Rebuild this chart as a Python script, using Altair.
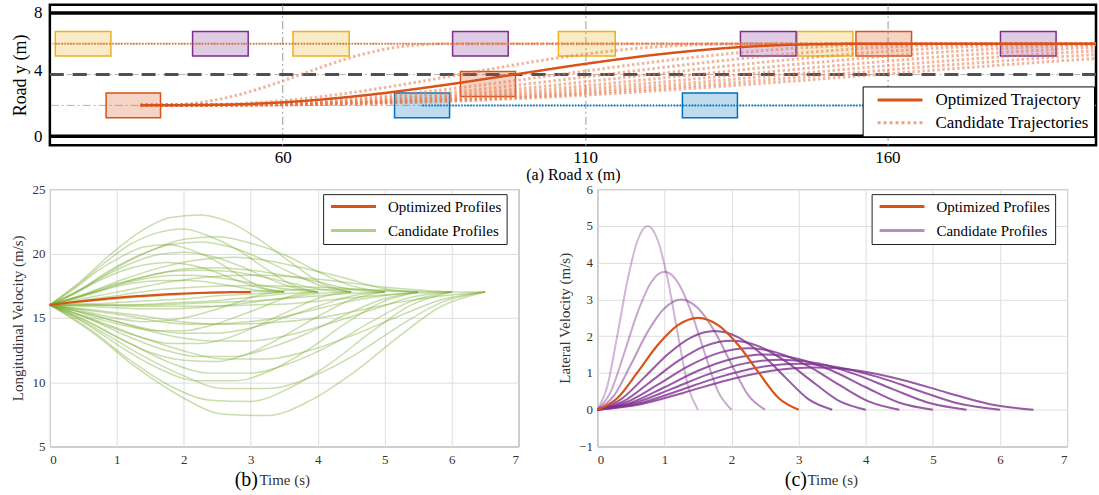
import altair as alt
import pandas as pd

FONT = "Liberation Serif"
ORANGE = "#D95319"

# ---------------- (a) road scene ----------------
ROAD_X = [21.5, 194.5]
ROAD_Y = [-0.55, 8.0]
ROAD_X_TICKS = [60, 110, 160]
ROAD_Y_TICKS = [0, 4, 8]

road_edges = [0.0, 7.5]
lane_divider = [3.75]
lane_guides = [1.875, 3.75, 5.625]

car_kind = ["yellow", "yellow", "yellow", "yellow",
            "purple", "purple", "purple", "purple",
            "ego", "ego", "ego", "blue", "blue"]
car_x0 = [22.4, 61.7, 105.6, 145.1, 45.1, 88.1, 135.7, 178.7, 30.8, 89.4, 154.8, 78.5, 126.1]
car_x1 = [31.6, 71.0, 115.0, 154.3, 54.3, 97.3, 144.9, 187.9, 39.8, 98.5, 164.0, 87.6, 135.2]
car_y0 = [4.875, 4.875, 4.875, 4.875, 4.875, 4.875, 4.875, 4.875, 1.125, 2.42, 4.875, 1.125, 1.125]
car_y1 = [6.375, 6.375, 6.375, 6.375, 6.375, 6.375, 6.375, 6.375, 2.625, 3.94, 6.375, 2.625, 2.625]

# predicted paths of the surrounding vehicles
pred_kind = ["lane2", "blue"]
pred_x0 = [22.4, 83.1]
pred_x1 = [194.5, 194.5]
pred_y = [5.625, 1.875]

CAR_KEYS = ["yellow", "purple", "ego", "blue", "lane2"]
CAR_COLORS = ["#EDB120", "#7E2F8E", ORANGE, "#0072BD", "#E0782E"]

# lateral offsets along each lane-change path (same sampling for every path)
path_y = [1.88, 1.91, 2.09, 2.49, 3.07, 3.75, 4.43, 5.01, 5.41, 5.59, 5.63]
opt_x = [36.5, 48.9, 61.2, 73.6, 85.9, 98.3, 110.6, 123.0, 135.3, 147.7, 160.0]
cand_x = [
    [36.5, 41.8, 47.1, 52.4, 57.7, 63.0, 68.2, 73.5, 78.8, 84.1, 89.4],
    [36.5, 47.1, 57.6, 68.2, 78.7, 89.3, 99.8, 110.4, 120.9, 131.5, 142.0],
    [36.5, 50.4, 64.2, 78.1, 91.9, 105.8, 119.6, 133.5, 147.3, 161.2, 175.0],
    [36.5, 51.9, 67.2, 82.6, 97.9, 113.3, 128.6, 144.0, 159.3, 174.7, 190.0],
    [36.5, 53.4, 70.2, 87.1, 103.9, 120.8, 137.6, 154.5, 171.3, 188.2, 205.0],
    [36.5, 54.9, 73.2, 91.6, 109.9, 128.3, 146.6, 165.0, 183.3, 201.7, 220.0],
    [36.5, 56.4, 76.2, 96.1, 115.9, 135.8, 155.6, 175.5, 195.3, 215.2, 235.0],
    [36.5, 57.9, 79.2, 100.6, 121.9, 143.3, 164.6, 186.0, 207.3, 228.7, 250.0],
    [36.5, 59.4, 82.2, 105.1, 127.9, 150.8, 173.6, 196.5, 219.3, 242.2, 265.0],
    [36.5, 60.9, 85.2, 109.6, 133.9, 158.3, 182.6, 207.0, 231.3, 255.7, 280.0],
]
ROAD_END = 194.5
TRAJ_KINDS = ["Optimized Trajectory", "Candidate Trajectories"]

# ---------------- (b) longitudinal velocity ----------------
S_FRAC = [0.0, 0.1, 0.2, 0.3, 0.4, 0.5, 0.6, 0.7, 0.8, 0.9, 1.0]
long_T = [3.5] * 5 + [4.0] * 5 + [4.5] * 5 + [5.0] * 5 + [5.5] * 5 + [6.0] * 5 + [6.5] * 5
long_v = [
    [16.0, 17.2, 18.6, 19.7, 20.5, 20.7, 20.3, 19.5, 18.4, 17.4, 17.0],
    [16.0, 16.8, 17.8, 18.6, 19.1, 19.3, 19.1, 18.6, 17.9, 17.3, 17.0],
    [16.0, 16.5, 17.0, 17.5, 17.8, 17.9, 17.9, 17.7, 17.4, 17.1, 17.0],
    [16.0, 16.1, 16.1, 16.2, 16.3, 16.4, 16.5, 16.7, 16.8, 16.9, 17.0],
    [16.0, 15.7, 15.3, 14.9, 14.7, 14.8, 15.1, 15.6, 16.2, 16.8, 17.0],
    [16.0, 17.5, 19.2, 20.7, 21.6, 21.9, 21.3, 20.3, 18.9, 17.6, 17.0],
    [16.0, 17.0, 18.2, 19.2, 19.9, 20.1, 19.8, 19.1, 18.2, 17.4, 17.0],
    [16.0, 16.6, 17.2, 17.8, 18.2, 18.3, 18.2, 17.9, 17.5, 17.2, 17.0],
    [16.0, 16.0, 16.0, 16.0, 16.1, 16.2, 16.3, 16.5, 16.7, 16.9, 17.0],
    [16.0, 15.5, 14.8, 14.3, 14.0, 14.0, 14.4, 15.1, 15.9, 16.7, 17.0],
    [16.0, 17.8, 19.9, 21.7, 22.8, 23.0, 22.4, 21.0, 19.3, 17.7, 17.0],
    [16.0, 17.2, 18.7, 19.9, 20.7, 20.9, 20.5, 19.6, 18.5, 17.5, 17.0],
    [16.0, 16.7, 17.5, 18.1, 18.6, 18.7, 18.6, 18.2, 17.7, 17.2, 17.0],
    [16.0, 15.9, 15.8, 15.7, 15.7, 15.8, 16.0, 16.3, 16.6, 16.9, 17.0],
    [16.0, 15.2, 14.3, 13.5, 13.0, 13.0, 13.5, 14.5, 15.6, 16.6, 17.0],
    [16.0, 17.3, 18.9, 20.2, 21.1, 21.3, 20.8, 19.9, 18.6, 17.5, 17.0],
    [16.0, 16.7, 17.6, 18.3, 18.8, 18.9, 18.7, 18.3, 17.8, 17.2, 17.0],
    [16.0, 16.0, 16.0, 16.0, 16.1, 16.2, 16.3, 16.5, 16.7, 16.9, 17.0],
    [16.0, 15.4, 14.7, 14.1, 13.8, 13.8, 14.2, 15.0, 15.9, 16.7, 17.0],
    [16.0, 14.9, 13.5, 12.3, 11.7, 11.6, 12.3, 13.6, 15.1, 16.4, 17.0],
    [16.0, 16.9, 18.0, 18.9, 19.5, 19.7, 19.4, 18.8, 18.1, 17.3, 17.0],
    [16.0, 16.4, 16.8, 17.2, 17.4, 17.5, 17.5, 17.4, 17.3, 17.1, 17.0],
    [16.0, 15.6, 15.2, 14.7, 14.5, 14.6, 14.9, 15.5, 16.2, 16.7, 17.0],
    [16.0, 15.0, 13.7, 12.6, 12.0, 12.0, 12.7, 13.8, 15.2, 16.4, 17.0],
    [16.0, 14.5, 12.6, 11.0, 10.1, 10.1, 10.9, 12.5, 14.5, 16.2, 17.0],
    [16.0, 16.6, 17.2, 17.8, 18.2, 18.3, 18.2, 17.9, 17.5, 17.2, 17.0],
    [16.0, 16.0, 15.9, 15.9, 15.9, 16.0, 16.1, 16.4, 16.7, 16.9, 17.0],
    [16.0, 15.3, 14.4, 13.6, 13.2, 13.2, 13.7, 14.6, 15.6, 16.6, 17.0],
    [16.0, 14.6, 13.0, 11.5, 10.7, 10.7, 11.5, 12.9, 14.7, 16.3, 17.0],
    [16.0, 14.1, 11.7, 9.7, 8.6, 8.5, 9.6, 11.5, 13.9, 16.0, 17.0],
    [16.0, 16.3, 16.6, 16.8, 17.0, 17.1, 17.2, 17.2, 17.1, 17.0, 17.0],
    [16.0, 15.6, 15.2, 14.7, 14.5, 14.6, 14.9, 15.5, 16.2, 16.7, 17.0],
    [16.0, 14.9, 13.6, 12.5, 11.8, 11.8, 12.5, 13.7, 15.1, 16.4, 17.0],
    [16.0, 14.3, 12.3, 10.6, 9.5, 9.5, 10.4, 12.1, 14.3, 16.2, 17.0],
    [16.0, 13.8, 11.1, 8.9, 7.5, 7.4, 8.6, 10.8, 13.5, 15.9, 17.0],
]
long_opt_T = 3.0
long_opt_v = [16.0, 16.19, 16.36, 16.51, 16.64, 16.75, 16.84, 16.91, 16.96, 16.99, 17.0]

# ---------------- (c) lateral velocity ----------------
lat_T = [1.5, 2.0, 2.5, 3.5, 4.0, 4.5, 5.0, 5.5, 6.0, 6.5]
lat_alpha = [0.35, 0.42, 0.5, 0.8, 0.8, 0.8, 0.8, 0.8, 0.8, 0.8]
lat_v = [
    [0, 0.65, 2.05, 3.53, 4.61, 5.0, 4.61, 3.53, 2.05, 0.65, 0],
    [0, 0.49, 1.54, 2.65, 3.46, 3.75, 3.46, 2.65, 1.54, 0.49, 0],
    [0, 0.39, 1.23, 2.12, 2.76, 3.0, 2.76, 2.12, 1.23, 0.39, 0],
    [0, 0.28, 0.88, 1.51, 1.97, 2.14, 1.97, 1.51, 0.88, 0.28, 0],
    [0, 0.24, 0.77, 1.32, 1.73, 1.875, 1.73, 1.32, 0.77, 0.24, 0],
    [0, 0.22, 0.68, 1.18, 1.54, 1.67, 1.54, 1.18, 0.68, 0.22, 0],
    [0, 0.19, 0.61, 1.06, 1.38, 1.5, 1.38, 1.06, 0.61, 0.19, 0],
    [0, 0.18, 0.56, 0.96, 1.26, 1.36, 1.26, 0.96, 0.56, 0.18, 0],
    [0, 0.16, 0.51, 0.88, 1.15, 1.25, 1.15, 0.88, 0.51, 0.16, 0],
    [0, 0.15, 0.47, 0.81, 1.06, 1.15, 1.06, 0.81, 0.47, 0.15, 0],
]
lat_opt_T = 3.0
lat_opt_v = [0, 0.32, 1.02, 1.76, 2.30, 2.5, 2.30, 1.76, 1.02, 0.32, 0]

PROFILE_KINDS = ["Optimized Profiles", "Candidate Profiles"]

# ---------------- tables ----------------
cars = pd.DataFrame({"kind": car_kind, "x0": car_x0, "x1": car_x1, "y0": car_y0, "y1": car_y1})
preds = pd.DataFrame({"kind": pred_kind, "x0": pred_x0, "x1": pred_x1, "y": pred_y})
edges = pd.DataFrame({"y": road_edges})
divider = pd.DataFrame({"y": lane_divider})
guides = pd.DataFrame({"y": lane_guides})

rows = []
for i, xs in enumerate(cand_x):
    for x, y in zip(xs, path_y):
        rows.append({"id": i, "x": x, "y": y})
    if xs[-1] < ROAD_END:
        rows.append({"id": i, "x": ROAD_END, "y": path_y[-1]})
cand = pd.DataFrame(rows)
opt = pd.DataFrame({"x": opt_x + [ROAD_END], "y": path_y + [path_y[-1]]})
opt["kind"] = TRAJ_KINDS[0]

rows = []
for i, (T, vs) in enumerate(zip(long_T, long_v)):
    for f, v in zip(S_FRAC, vs):
        rows.append({"id": i, "t": f * T, "v": v})
long_cand = pd.DataFrame(rows)
long_opt = pd.DataFrame({"t": [f * long_opt_T for f in S_FRAC], "v": long_opt_v})
long_opt["kind"] = PROFILE_KINDS[0]

rows = []
for i, (T, a, vs) in enumerate(zip(lat_T, lat_alpha, lat_v)):
    for f, v in zip(S_FRAC, vs):
        rows.append({"id": i, "t": f * T, "v": v, "alpha": a})
lat_cand = pd.DataFrame(rows)
lat_opt = pd.DataFrame({"t": [f * lat_opt_T for f in S_FRAC], "v": lat_opt_v})
lat_opt["kind"] = PROFILE_KINDS[0]

# ---------------- (a) chart ----------------
ax_x = alt.Axis(values=ROAD_X_TICKS, title="(a) Road x (m)", grid=True, gridDash=[8, 3, 2, 3],
                gridColor="#9a9a9a", gridWidth=1, ticks=False, domain=False, labelPadding=4,
                labelFontSize=17, titleFontSize=16, titlePadding=1, labelColor="black",
                titleColor="black")
ax_y = alt.Axis(values=ROAD_Y_TICKS, title="Road y (m)", grid=False, ticks=False, domain=False,
                labelFlush=True, labelPadding=8, labelFontSize=17, titleFontSize=18,
                titlePadding=4, labelColor="black", titleColor="black")
sx = alt.Scale(domain=ROAD_X, nice=False, zero=False)
sy = alt.Scale(domain=ROAD_Y, nice=False, zero=False)
X = alt.X("x:Q", scale=sx, axis=ax_x)
Y = alt.Y("y:Q", scale=sy, axis=ax_y)
car_fill = alt.Scale(domain=CAR_KEYS, range=CAR_COLORS)

guide_layer = alt.Chart(guides).mark_rule(color="#b5b5b5", strokeWidth=1,
                                          strokeDash=[8, 3, 2, 3]).encode(y=Y)
divider_layer = alt.Chart(divider).mark_rule(color="#505050", strokeWidth=3,
                                             strokeDash=[14, 9]).encode(y=Y)
edge_layer = alt.Chart(edges).mark_rule(color="black", strokeWidth=3.5).encode(y=Y)
car_layer = alt.Chart(cars).mark_rect(strokeWidth=1.5, fillOpacity=0.25).encode(
    x=alt.X("x0:Q", scale=sx, axis=ax_x), x2="x1:Q",
    y=alt.Y("y0:Q", scale=sy, axis=ax_y), y2="y1:Q",
    fill=alt.Fill("kind:N", scale=car_fill, legend=None),
    stroke=alt.Stroke("kind:N", scale=car_fill, legend=None),
)
pred_layer = alt.Chart(preds).mark_rule(strokeWidth=2, strokeDash=[1.5, 1.5]).encode(
    x=alt.X("x0:Q", scale=sx, axis=ax_x), x2="x1:Q", y=Y,
    stroke=alt.Stroke("kind:N", scale=car_fill, legend=None),
)
cand_layer = alt.Chart(cand).mark_line(interpolate="monotone", strokeWidth=3, strokeDash=[2.5, 2.5],
                                       opacity=0.55, color="#E8784A", clip=True).encode(
    x=X, y=Y, detail="id:N")

traj_legend = alt.Legend(orient="none", legendX=815, legendY=82, title=None, fillColor="white",
                         strokeColor="black", padding=5, symbolType="M-5,0H5", symbolSize=81,
                         symbolStrokeWidth=3, symbolOffset=24, labelOffset=27, labelFontSize=17,
                         labelFont=FONT, labelColor="black", rowPadding=5, labelLimit=400)
opt_layer = alt.Chart(opt).mark_line(interpolate="monotone", strokeWidth=2.5, clip=True).encode(
    x=X, y=Y,
    color=alt.Color("kind:N", scale=alt.Scale(domain=TRAJ_KINDS, range=[ORANGE, "#F2A07E"]),
                    legend=traj_legend),
    strokeDash=alt.StrokeDash("kind:N", scale=alt.Scale(domain=TRAJ_KINDS, range=[[1, 0], [3, 3]]),
                              legend=traj_legend),
)

top = alt.layer(guide_layer, divider_layer, edge_layer, car_layer, pred_layer, cand_layer,
                opt_layer).properties(
    width=1049, height=141, view=alt.ViewBackground(stroke="black", strokeWidth=2.5))


# ---------------- (b) and (c) charts ----------------
def profile_axes(ymin, ymax, ytitle):
    axx = alt.Axis(values=[0, 1, 2, 3, 4, 5, 6, 7], title="Time (s)", grid=True,
                   gridColor="#dedede", ticks=False, domain=False, labelPadding=7,
                   labelFontSize=13, labelColor="#333333", titleFontSize=15, titleColor="#333333",
                   titlePadding=6)
    axy = alt.Axis(values=list(range(ymin, ymax + 1, 5 if ymax > 10 else 1)), title=ytitle,
                   grid=True, gridColor="#dedede", ticks=False, domain=False, labelPadding=5,
                   labelFontSize=13, labelColor="#333333", titleFontSize=15, titleColor="#333333",
                   titlePadding=6)
    return (alt.X("t:Q", scale=alt.Scale(domain=[0, 7], nice=False), axis=axx),
            alt.Y("v:Q", scale=alt.Scale(domain=[ymin, ymax], nice=False, zero=False), axis=axy))


def profile_legend(x):
    return alt.Legend(orient="none", legendX=x, legendY=5, title=None, fillColor="white",
                      strokeColor="#222222", padding=5, symbolType="M-5,0H5", symbolSize=81,
                      symbolStrokeWidth=3, symbolOffset=18, labelOffset=27, labelFontSize=15,
                      labelFont=FONT, labelColor="black", rowPadding=8, labelLimit=400)


bx, by = profile_axes(5, 25, "Longitudinal Velocity (m/s)")
b_cand = alt.Chart(long_cand).mark_line(interpolate="monotone", color="#77AC30", opacity=0.4,
                                        strokeWidth=1.5).encode(x=bx, y=by, detail="id:N")
b_opt = alt.Chart(long_opt).mark_line(interpolate="monotone", strokeWidth=2.2).encode(
    x=bx, y=by,
    color=alt.Color("kind:N", scale=alt.Scale(domain=PROFILE_KINDS, range=[ORANGE, "#ABD08A"]),
                    legend=profile_legend(274)))
b_tag = alt.Chart(pd.DataFrame({"tag": ["(b)"]})).mark_text(fontSize=20, font=FONT,
                                                             color="black").encode(
    text="tag:N", x=alt.value(197), y=alt.value(292))
panel_b = alt.layer(b_cand, b_opt, b_tag).properties(
    width=470, height=258, view=alt.ViewBackground(stroke="#7a7a7a", strokeWidth=1))

cx, cy = profile_axes(-1, 6, "Lateral Velocity (m/s)")
c_cand = alt.Chart(lat_cand).mark_line(interpolate="monotone", color="#7E2F8E",
                                       strokeWidth=2).encode(
    x=cx, y=cy, detail="id:N", opacity=alt.Opacity("alpha:Q", scale=None))
c_opt = alt.Chart(lat_opt).mark_line(interpolate="monotone", strokeWidth=2.2).encode(
    x=cx, y=cy,
    color=alt.Color("kind:N", scale=alt.Scale(domain=PROFILE_KINDS, range=[ORANGE, "#B98CC6"]),
                    legend=profile_legend(275)))
c_tag = alt.Chart(pd.DataFrame({"tag": ["(c)"]})).mark_text(fontSize=20, font=FONT,
                                                             color="black").encode(
    text="tag:N", x=alt.value(199), y=alt.value(292))
panel_c = alt.layer(c_cand, c_opt, c_tag).properties(
    width=471, height=258, view=alt.ViewBackground(stroke="#7a7a7a", strokeWidth=1))

bottom = alt.hconcat(panel_b, panel_c, spacing=79, bounds="flush").resolve_scale(
    color="independent").resolve_legend(color="independent")

chart = alt.vconcat(top, bottom, spacing=44, bounds="flush").resolve_scale(
    color="independent", strokeDash="independent", fill="independent", stroke="independent"
).resolve_legend(
    color="independent", strokeDash="independent"
).properties(
    padding={"left": 10, "top": 1, "right": 0, "bottom": 0}
).configure(font=FONT).configure_axis(
    labelFont=FONT, titleFont=FONT, titleFontWeight="normal"
).configure_legend(labelFont=FONT).configure_text(font=FONT)

chart.save("out.html", embed_options={"renderer": "svg", "actions": False})
